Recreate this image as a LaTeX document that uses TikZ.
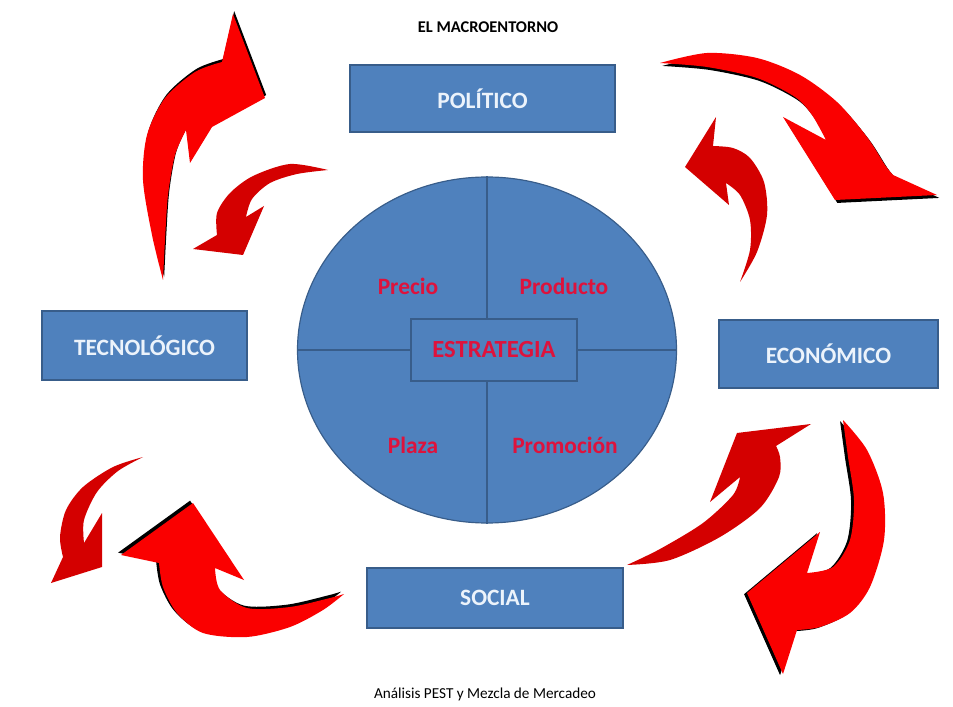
\documentclass[tikz,border=0pt]{standalone}
\usepackage{fontspec}
\setmainfont{Carlito}
\usetikzlibrary{shapes.geometric,shadows}
\definecolor{boxblue}{RGB}{79,129,189}
\definecolor{boxline}{RGB}{56,93,138}
\definecolor{boxtext}{RGB}{236,243,251}
\definecolor{labelred}{RGB}{222,18,60}
\definecolor{arrowred}{RGB}{250,0,0}
\definecolor{arrowdark}{RGB}{212,0,0}

\begin{document}
\begin{tikzpicture}[x=0.3mm,y=-0.3mm,
  pest/.style={draw=boxline,fill=boxblue,line width=1pt,text=boxtext,font=\fontsize{20}{22}\selectfont\bfseries,inner sep=0pt},
  mix/.style={text=labelred,font=\fontsize{20}{22}\selectfont\bfseries},
  bigarrow/.style 2 args={fill=arrowred,drop shadow={shadow xshift=#1,shadow yshift=#2,fill=black,opacity=1}},
  smallarrow/.style={fill=arrowdark}]
  \useasboundingbox (0,0) rectangle (953,707);

  \fill[bigarrow={1pt}{2.5pt}] plot[smooth] coordinates {(163,280) (152,235) (143,180) (147,135) (165,98) (195,72) (222,62)}
    -- (233,14) -- (265,98) -- (212,127) -- (190,163)
    -- plot[smooth] coordinates {(186,130) (175,155) (168,195) (165,240) (163,280)} -- cycle;
  \fill[smallarrow] plot[smooth] coordinates {(328,170) (290,164) (253,176) (230,193) (217,213) (217,235)}
    -- (193,249) -- (243,255) -- (264,206)
    -- plot[smooth] coordinates {(246,217) (252,199) (270,183) (297,174) (328,170)} -- cycle;
  \fill[bigarrow={2pt}{-2.5pt}] plot[smooth] coordinates {(660,63) (707,53) (757,58) (800,75) (837,102) (867,137) (885,165) (893,175)}
    -- (937,195) -- (835,200) -- (783,117)
    -- plot[smooth] coordinates {(826,140) (812,115) (795,97) (757,78) (707,67) (660,63)} -- cycle;
  \fill[smallarrow] plot[smooth] coordinates {(740,282) (757,252) (767,215) (764,182) (750,158) (733,148) (713,146)}
    -- (716,117) -- (685,167) -- (729,205)
    -- plot[smooth] coordinates {(726,183) (740,195) (750,220) (750,250) (740,282)} -- cycle;
  \fill[smallarrow] plot[smooth] coordinates {(143,457) (113,467) (83,487) (66,510) (60,537) (63,557)}
    -- (51,583) -- (102,567) -- (102,513)
    -- plot[smooth] coordinates {(84,543) (84,520) (97,492) (118,471) (143,457)} -- cycle;
  \fill[bigarrow={-2.5pt}{2pt}] plot[smooth] coordinates {(344,594) (323,610) (290,627) (247,637) (203,633) (177,613) (163,587) (159,563)}
    -- (121,555) -- (193,503) -- (244,580)
    -- plot[smooth] coordinates {(215,568) (220,590) (247,608) (290,607) (330,598) (344,594)} -- cycle;
  \fill[smallarrow] plot[smooth] coordinates {(627,565) (670,560) (720,537) (760,508) (779,477) (780,457) (776,446)}
    -- (811,424) -- (737,433) -- (710,502)
    -- plot[smooth] coordinates {(740,477) (733,495) (703,523) (660,549) (627,565)} -- cycle;
  \fill[bigarrow={-2.5pt}{-1pt}] plot[smooth] coordinates {(843,420) (867,450) (883,493) (884,540) (870,587) (850,613) (820,627) (797,630)}
    -- (783,674) -- (747,593) -- (820,532)
    -- plot[smooth] coordinates {(807,573) (833,567) (850,540) (854,500) (848,457) (843,420)} -- cycle;

  \node[font=\fontsize{14}{16}\selectfont\bfseries] (titulo) at (488,27) {EL MACROENTORNO};
  \node[pest,minimum width=79.5mm,minimum height=20.1mm] (pol) at (482.5,98.5) {POLÍTICO};
  \node[pest,minimum width=61.5mm,minimum height=20.7mm] (tec) at (144.5,345.5) {TECNOLÓGICO};
  \node[pest,minimum width=65.7mm,minimum height=20.4mm] (eco) at (828.5,354) {ECONÓMICO};
  \node[pest,minimum width=76.8mm,minimum height=18mm] (soc) at (495,598) {SOCIAL};

  \node[ellipse,draw=boxline,fill=boxblue,line width=1pt,minimum width=113.7mm,minimum height=103.8mm,inner sep=0pt] (mezcla) at (487,350) {};
  \draw[boxline,line width=1pt] (mezcla.north) -- (mezcla.south) (mezcla.west) -- (mezcla.east);
  \node[pest,text=labelred,font=\fontsize{21}{23}\selectfont\bfseries,minimum width=49.8mm,minimum height=18.6mm] (estr) at (494,350) {ESTRATEGIA};
  \node[mix] (precio) at (408,286) {Precio};
  \node[mix] (producto) at (564,286) {Producto};
  \node[mix] (plaza) at (413,445) {Plaza};
  \node[mix] (promo) at (565,445) {Promoción};

  \node[font=\fontsize{13}{15}\selectfont] (pie) at (485,694) {Análisis PEST y Mezcla de Mercadeo};
\end{tikzpicture}
\end{document}
